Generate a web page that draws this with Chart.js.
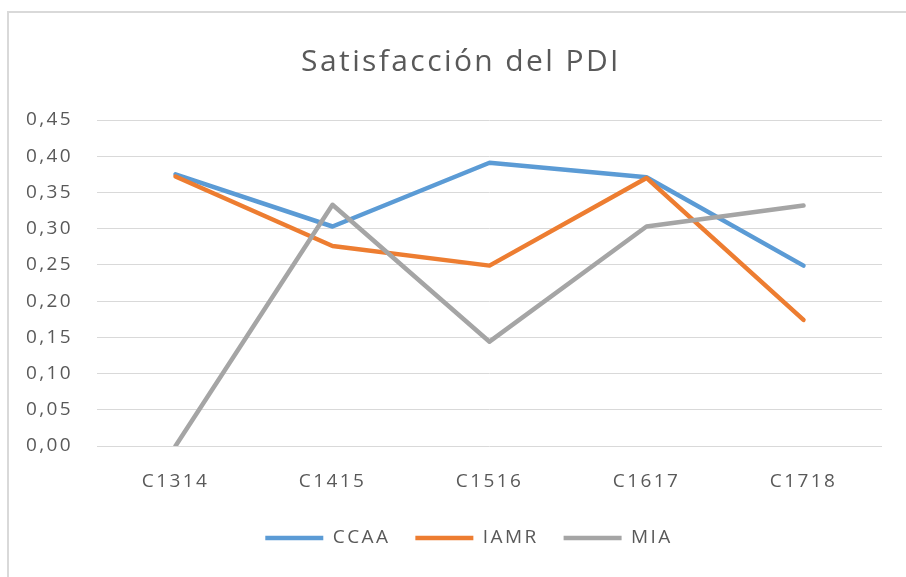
<!DOCTYPE html>
<html>
<head>
<meta charset="utf-8">
<script src="https://cdn.jsdelivr.net/npm/chart.js@4/dist/chart.umd.min.js"></script>
<style>
html,body{margin:0;padding:0;background:#fff;overflow:hidden;width:906px;height:577px;}
#frame{position:absolute;left:7px;top:11px;width:1000px;height:700px;border:2px solid #d9d9d9;}
#wrap{position:absolute;left:0;top:0;width:906px;height:577px;}
</style>
</head>
<body>
<div id="frame"></div>
<div id="wrap"><canvas id="c" width="906" height="577"></canvas></div>
<script>
const categories = ['C1314', 'C1415', 'C1516', 'C1617', 'C1718'];
const ccaa = [0.375, 0.303, 0.391, 0.371, 0.249];
const iamr = [0.372, 0.276, 0.249, 0.370, 0.174];
const mia  = [0.000, 0.333, 0.144, 0.303, 0.332];
const yTicks = ['0,00','0,05','0,10','0,15','0,20','0,25','0,30','0,35','0,40','0,45'];

const FONT = 'Open Sans';
const TXT = '#595959';

const spacingPlugin = {
  id: 'spacing',
  beforeLayout(chart) { chart.ctx.letterSpacing = '2.4px'; },
  afterLayout(chart) {
    if (chart.titleBlock) chart.titleBlock.left = 40;
    if (chart.legend) chart.legend.left = 56;
  },
  beforeDraw(chart) { chart.ctx.letterSpacing = '2.4px'; }
};

function ds(label, data, color, order) {
  return {
    label, data, order,
    borderColor: color, backgroundColor: color,
    borderWidth: 4.5, pointRadius: 0, pointHoverRadius: 0,
    tension: 0, fill: false,
    borderCapStyle: 'round', borderJoinStyle: 'round'
  };
}

new Chart(document.getElementById('c'), {
  type: 'line',
  data: {
    labels: categories,
    datasets: [
      ds('CCAA', ccaa, '#5B9BD5', 2),
      ds('IAMR', iamr, '#ED7D31', 1),
      ds('MIA', mia, '#A5A5A5', 0)
    ]
  },
  plugins: [spacingPlugin],
  options: {
    responsive: false,
    animation: false,
    devicePixelRatio: 1,
    layout: { padding: { top: 44, right: 24, bottom: 19.5, left: 0 } },
    plugins: {
      tooltip: { enabled: false },
      title: {
        display: true,
        text: 'Satisfacción del PDI',
        color: TXT,
        font: { family: FONT, size: 30, weight: 'normal' },
        padding: { top: 0, bottom: 40 }
      },
      legend: {
        position: 'bottom',
        labels: {
          usePointStyle: true,
          pointStyle: 'line',
          pointStyleWidth: 58,
          color: TXT,
          font: { family: FONT, size: 19 },
          padding: 25,
          sort: (a, b) => a.datasetIndex - b.datasetIndex
        }
      }
    },
    scales: {
      x: {
        offset: true,
        grid: { display: false, drawTicks: false },
        border: { display: false },
        ticks: { color: TXT, font: { family: FONT, size: 19 }, padding: 24 },
        afterFit(s) { s.height = 57.5; }
      },
      y: {
        min: 0, max: 0.45,
        grid: { color: '#d9d9d9', lineWidth: 1, drawTicks: false },
        border: { display: false },
        ticks: {
          stepSize: 0.05,
          color: TXT,
          font: { family: FONT, size: 19 },
          padding: 24,
          callback: (v, i) => yTicks[i]
        },
        afterFit(s) { s.width = 97; }
      }
    }
  }
});
</script>
</body>
</html>
